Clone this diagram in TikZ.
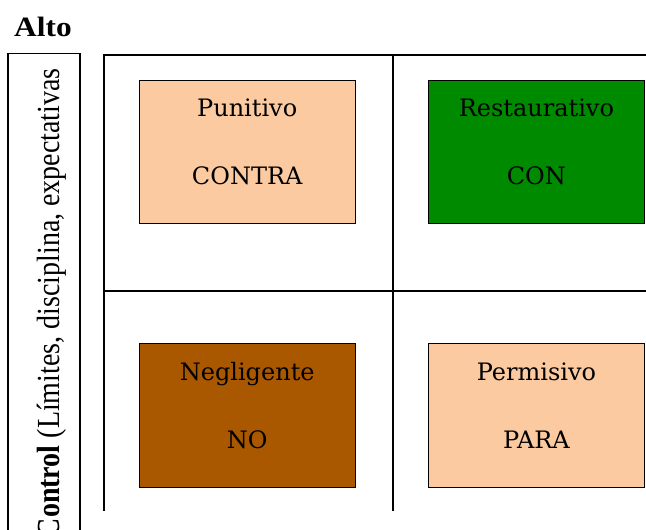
\documentclass[tikz,border=0pt]{standalone}
\usepackage{fontspec}
\setmainfont{Liberation Serif}
\newfontfamily\quadfont{DejaVu Serif}
\usetikzlibrary{positioning}

\definecolor{peach}{RGB}{251,202,160}
\definecolor{leafgreen}{RGB}{0,138,0}
\definecolor{rust}{RGB}{170,88,0}

\tikzset{
  quad/.style={draw=black, line width=1.2pt, minimum width=216pt, minimum height=143.5pt, inner sep=0pt},
  word/.style={font=\quadfont\fontsize{24}{28}\selectfont, anchor=base, inner sep=0pt},
  gridline/.style={line width=1.7pt, black},
}

\begin{document}
\begin{tikzpicture}[x=1pt,y=-1pt]
   \useasboundingbox (0,0) rectangle (646,530);
   \clip (0,0) rectangle (646,530);

   % axis
   \node[font=\bfseries\fontsize{28}{32}\selectfont, anchor=base west, inner sep=0pt, xscale=1.12] (alto) at (14,36) {Alto};
   \draw[line width=1.4pt] (8,540) rectangle (80,53.5);
   \node[xscale=1.15, rotate=90, anchor=base east, inner sep=0pt, font=\fontsize{28}{32}\selectfont] (ctrl) at (59,68) {\textbf{Control} (Límites, disciplina, expectativas};

   % grid
   \coordinate (tl) at (104.3,54.7);
   \coordinate (tm) at (392.7,54.7);
   \draw[gridline] (650,54.7) -- (tl) -- (104.3,510.7);
   \draw[gridline] (tm) -- (392.7,510.7);
   \draw[gridline] (104.3,290.7) -- (650,290.7);

   % quadrants
   \node[quad, fill=peach]                          (pun) at (247.2,152) {};
   \node[quad, fill=leafgreen, right=72pt of pun]   (res) {};
   \node[quad, fill=rust, below=118.7pt of pun]     (neg) {};
   \node[quad, fill=peach, right=72pt of neg]       (per) {};

   \foreach \q/\kind/\prep in {pun/Punitivo/CONTRA, res/Restaurativo/CON, neg/Negligente/NO, per/Permisivo/PARA} {
      \node[word] (\q-kind) at ([yshift=-37pt]\q.north) {\kind};
      \node[word] (\q-prep) at ([yshift=-105pt]\q.north) {\prep};
   }
\end{tikzpicture}
\end{document}
